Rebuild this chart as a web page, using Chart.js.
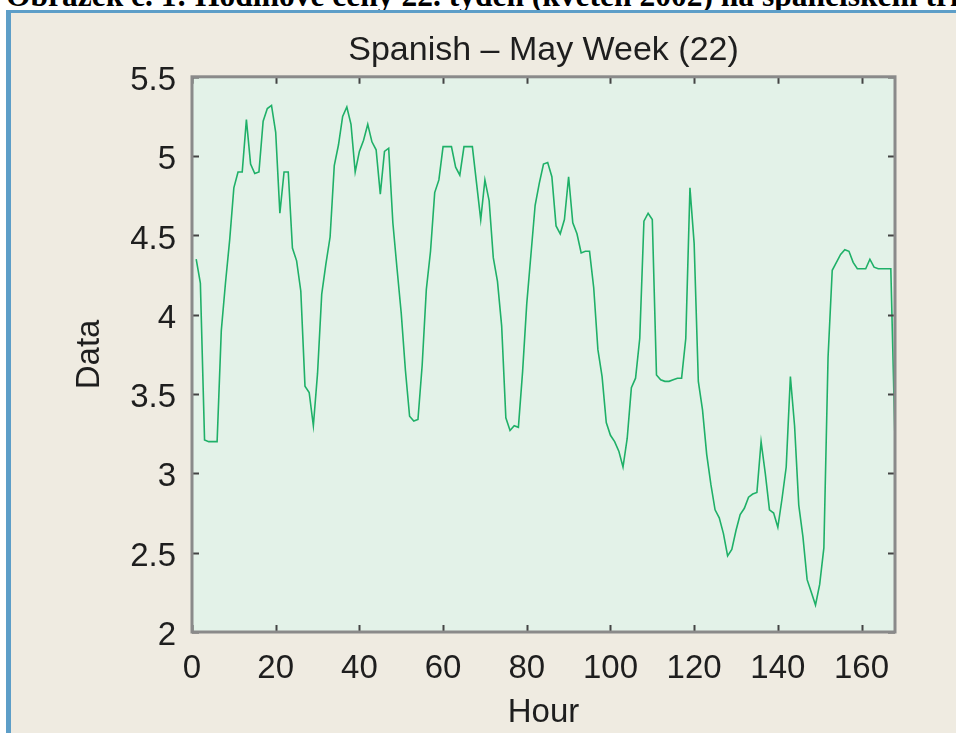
<!DOCTYPE html>
<html>
<head>
<meta charset="utf-8">
<title>Spanish – May Week (22)</title>
<script src="https://cdn.jsdelivr.net/npm/chart.js@4.4.1/dist/chart.umd.min.js"></script>
<style>
  html, body { margin: 0; padding: 0; background: #fff; }
  body { width: 956px; height: 733px; position: relative; overflow: hidden; }
  #caption {
    position: absolute; left: 6px; top: -20px; width: 950px;
    font: bold 31.5px/31px "Liberation Serif", "Times New Roman", serif;
    color: #000; white-space: nowrap; overflow: hidden;
  }
  #frame {
    position: absolute; left: 6px; top: 10px; right: 0; bottom: 0;
    border-left: 5px solid #5d9ec8; border-top: 3px solid #5d9ec8;
    background: #efebe1;
  }
  #chart { position: absolute; left: 0; top: 0; }
</style>
</head>
<body>
<div id="caption">Obrázek č. 1: Hodinové ceny 22. týden (květen 2002) na španělském trhu</div>
<div id="frame"></div>
<canvas id="chart" width="956" height="733"></canvas>
<script>
"use strict";

// hodiny 1..168, cena v kazde hodine
var firstHour = 1;
var prices = [
  4.35, 4.20, 3.21, 3.20, 3.20, 3.20, 3.90, 4.20, 4.47, 4.80, 4.90, 4.90,
  5.23, 4.95, 4.89, 4.90, 5.22, 5.30, 5.32, 5.15, 4.64, 4.90, 4.90, 4.42,
  4.34, 4.15, 3.55, 3.51, 3.30, 3.63, 4.13, 4.32, 4.49, 4.94, 5.07, 5.25,
  5.31, 5.20, 4.90, 5.03, 5.10, 5.20, 5.09, 5.04, 4.76, 5.03, 5.05, 4.58,
  4.29, 4.01, 3.65, 3.36, 3.33, 3.34, 3.68, 4.16, 4.40, 4.77, 4.85, 5.06,
  5.06, 5.06, 4.93, 4.88, 5.06, 5.06, 5.06, 4.83, 4.60, 4.85, 4.72, 4.36,
  4.21, 3.93, 3.35, 3.27, 3.30, 3.29, 3.64, 4.07, 4.38, 4.69, 4.83, 4.95,
  4.96, 4.87, 4.56, 4.51, 4.60, 4.87, 4.58, 4.51, 4.39, 4.40, 4.40, 4.17,
  3.78, 3.61, 3.32, 3.24, 3.20, 3.14, 3.04, 3.22, 3.54, 3.60, 3.85, 4.59,
  4.64, 4.60, 3.62, 3.59, 3.58, 3.58, 3.59, 3.60, 3.60, 3.85, 4.80, 4.45,
  3.58, 3.40, 3.12, 2.93, 2.77, 2.72, 2.62, 2.48, 2.52, 2.64, 2.74, 2.78,
  2.85, 2.87, 2.88, 3.20, 3.00, 2.77, 2.75, 2.66, 2.84, 3.04, 3.61, 3.30,
  2.80, 2.60, 2.33, 2.25, 2.17, 2.30, 2.53, 3.73, 4.28, 4.33, 4.38, 4.41,
  4.40, 4.33, 4.29, 4.29, 4.29, 4.35, 4.30, 4.29, 4.29, 4.29, 4.29, 3.21
];
var xTicks = [0, 20, 40, 60, 80, 100, 120, 140, 160];
var yTicks = [2, 2.5, 3, 3.5, 4, 4.5, 5, 5.5];
var yTickLabels = ["2", "2.5", "3", "3.5", "4", "4.5", "5", "5.5"];

var txtFont = { family: "'Liberation Sans', Arial, sans-serif", size: 33 };
var txtColor = "#1e1e1e";

// pozadi plochy grafu
var plotBg = {
  id: "plotBg",
  beforeDraw: function(chart) {
    var a = chart.chartArea, ctx = chart.ctx;
    ctx.save();
    ctx.fillStyle = "#e3f2e8";
    ctx.fillRect(a.left, a.top, a.right - a.left, a.bottom - a.top);
    ctx.restore();
  }
};

// ramecek a ticky dovnitr (jako v matlabu)
var plotFrame = {
  id: "plotFrame",
  afterDraw: function(chart) {
    var a = chart.chartArea, ctx = chart.ctx;
    var sx = chart.scales.x, sy = chart.scales.y;
    var len = 7;
    ctx.save();
    ctx.strokeStyle = "#444";
    ctx.lineWidth = 2;
    ctx.beginPath();
    xTicks.forEach(function(v) {
      var px = Math.round(sx.getPixelForValue(v)) + 0.5;
      ctx.moveTo(px, a.bottom); ctx.lineTo(px, a.bottom - len);
      ctx.moveTo(px, a.top); ctx.lineTo(px, a.top + len);
    });
    yTicks.forEach(function(v) {
      var py = Math.round(sy.getPixelForValue(v)) + 0.5;
      ctx.moveTo(a.left, py); ctx.lineTo(a.left + len, py);
      ctx.moveTo(a.right, py); ctx.lineTo(a.right - len, py);
    });
    ctx.stroke();
    ctx.strokeStyle = "#8a8a8a";
    ctx.lineWidth = 3;
    ctx.strokeRect(a.left, a.top, a.right - a.left, a.bottom - a.top);
    ctx.restore();
  }
};

var points = prices.map(function(p, i) { return { x: firstHour + i, y: p }; });

new Chart(document.getElementById("chart"), {
  type: "line",
  data: {
    datasets: [{
      data: points,
      borderColor: "#1fb068",
      borderWidth: 1.6,
      pointRadius: 0,
      tension: 0,
      fill: false
    }]
  },
  options: {
    responsive: false,
    animation: false,
    devicePixelRatio: 1,
    layout: { padding: { left: 66, right: 61, top: 30, bottom: 0 } },
    plugins: {
      legend: { display: false },
      tooltip: { enabled: false },
      title: {
        display: true,
        fullSize: false,
        text: "Spanish – May Week (22)",
        color: txtColor,
        font: { family: txtFont.family, size: 34, weight: "normal" },
        padding: { top: 0, bottom: 6 }
      }
    },
    scales: {
      x: {
        type: "linear",
        min: 0,
        max: 168,
        grid: { display: false },
        border: { display: false },
        afterBuildTicks: function(s) { s.ticks = xTicks.map(function(v) { return { value: v }; }); },
        afterFit: function(s) { s.height = 101; },
        ticks: { font: txtFont, color: txtColor, padding: 9, maxRotation: 0, autoSkip: false },
        title: { display: true, text: "Hour", font: txtFont, color: txtColor, padding: { top: 4, bottom: 0 } }
      },
      y: {
        min: 2,
        max: 5.5,
        grid: { display: false },
        border: { display: false },
        afterBuildTicks: function(s) { s.ticks = yTicks.map(function(v) { return { value: v }; }); },
        afterFit: function(s) { s.width = 126; },
        ticks: {
          font: txtFont, color: txtColor, padding: 8, labelOffset: 4, autoSkip: false,
          callback: function(v) { return yTickLabels[yTicks.indexOf(v)]; }
        },
        title: { display: true, text: "Data", font: txtFont, color: txtColor, padding: { top: 4, bottom: 4 } }
      }
    }
  },
  plugins: [plotBg, plotFrame]
});
</script>
</body>
</html>
